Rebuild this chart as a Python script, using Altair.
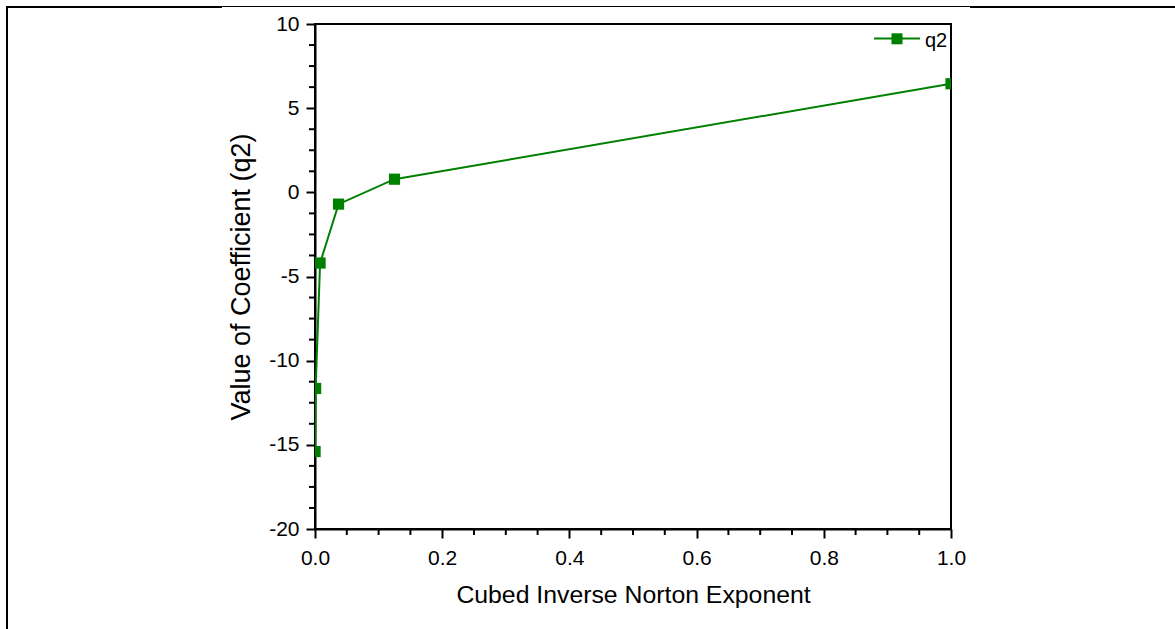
import altair as alt
import pandas as pd

# Cubed inverse Norton exponent, (1/n)^3, and the fitted q2 coefficient
exponent_x = [0.000125, 0.001, 0.008, 0.037037, 0.125, 1.0]
q2_values = [-15.4, -11.65, -4.2, -0.7, 0.78, 6.45]
series_name = ["q2"]

# Axis tick positions
y_major = [-20, -15, -10, -5, 0, 5, 10]
y_minor = [-18.75, -17.5, -16.25, -13.75, -12.5, -11.25, -8.75, -7.5, -6.25,
           -3.75, -2.5, -1.25, 1.25, 2.5, 3.75, 6.25, 7.5, 8.75]
x_major = [0.0, 0.2, 0.4, 0.6, 0.8, 1.0]
x_minor = [0.05, 0.1, 0.15, 0.25, 0.3, 0.35, 0.45, 0.5, 0.55, 0.65, 0.7, 0.75,
           0.85, 0.9, 0.95]

GREEN = "#008000"
FONT = "Liberation Sans"
W, H = 636, 505

df = pd.DataFrame({"x": exponent_x, "q2": q2_values})
xs = alt.Scale(domain=[0, 1], nice=False, zero=False)
ys = alt.Scale(domain=[-20, 10], nice=False, zero=False)

# plain hyphen for negative numbers
hyphen = "replace(datum.label, '\u2212', '-')"

x_enc = alt.X("x:Q", scale=xs, axis=alt.Axis(
    values=x_major, format=".1f", title="Cubed Inverse Norton Exponent",
    labelFlush=False, labelOverlap=False, labelPadding=9,
    titleY=73.5, titleBaseline="alphabetic", titleFontSize=24.8))
y_enc = alt.Y("q2:Q", scale=ys, axis=alt.Axis(
    values=y_major, format="d", labelExpr=hyphen, title="Value of Coefficient (q2)",
    labelFlush=False, labelOverlap=False, labelPadding=7,
    titleX=-66, titleY=H / 2, titleAngle=270, titleFontSize=27,
    titleAlign="center", titleBaseline="alphabetic"))

line = alt.Chart(df).mark_line(color=GREEN, strokeWidth=2, clip=True).encode(x=x_enc, y=y_enc)
pts = alt.Chart(df).mark_point(shape="square", filled=True, size=125, opacity=1,
                               color=GREEN, clip=True).encode(x=x_enc, y=y_enc)
main = alt.layer(line, pts)

# Minor ticks drawn on their own copies of the scales
ymin = alt.Chart(pd.DataFrame({"v": y_minor})).mark_rule(color="black", strokeWidth=2).encode(
    y=alt.Y("v:Q", scale=ys, axis=None), x=alt.value(-6), x2=alt.value(0))
xmin = alt.Chart(pd.DataFrame({"v": x_minor})).mark_rule(color="black", strokeWidth=2).encode(
    x=alt.X("v:Q", scale=xs, axis=None), y=alt.value(H), y2=alt.value(H + 6))
minor = alt.layer(ymin, xmin)

# Legend entry in the upper right corner
leg_df = pd.DataFrame({"series": series_name})
leg_line = alt.Chart(leg_df).mark_rule(color=GREEN, strokeWidth=2).encode(
    x=alt.value(559), x2=alt.value(605), y=alt.value(14.5))
leg_sym = alt.Chart(leg_df).mark_point(shape="square", filled=True, size=121, opacity=1,
                                       color=GREEN).encode(x=alt.value(582), y=alt.value(14.8))
leg_txt = alt.Chart(leg_df).mark_text(align="left", baseline="alphabetic", font=FONT,
                                      fontSize=20, color="black").encode(
    x=alt.value(610), y=alt.value(22.7), text="series:N")

# Page frame lines
frame_df = pd.DataFrame({"k": [0]})
frame_left = alt.Chart(frame_df).mark_rule(color="black", strokeWidth=2).encode(
    x=alt.value(-308), y=alt.value(-18), y2=alt.value(605))
frame_top_a = alt.Chart(frame_df).mark_rule(color="black", strokeWidth=2).encode(
    x=alt.value(-309), x2=alt.value(-93), y=alt.value(-17))
frame_top_b = alt.Chart(frame_df).mark_rule(color="black", strokeWidth=1).encode(
    x=alt.value(-93), x2=alt.value(655), y=alt.value(-17.5))
frame_top_c = alt.Chart(frame_df).mark_rule(color="black", strokeWidth=2).encode(
    x=alt.value(655), x2=alt.value(860), y=alt.value(-17))

chart = alt.layer(
    main, minor, leg_line, leg_sym, leg_txt,
    frame_left, frame_top_a, frame_top_b, frame_top_c,
).resolve_scale(x="independent", y="independent").properties(
    width=W, height=H,
    autosize=alt.AutoSizeParams(type="none"),
    padding={"left": 315, "top": 24, "right": 224, "bottom": 100},
    background="white",
).configure_view(
    stroke="black", strokeWidth=2,
).configure_axis(
    grid=False, domainColor="black", domainWidth=2, tickColor="black",
    tickWidth=2, tickSize=9, labelFont=FONT, labelFontSize=21, labelColor="black",
    titleFont=FONT, titleFontWeight="normal", titleColor="black",
)

chart.save("out.html", embed_options={"renderer": "svg", "actions": False})
